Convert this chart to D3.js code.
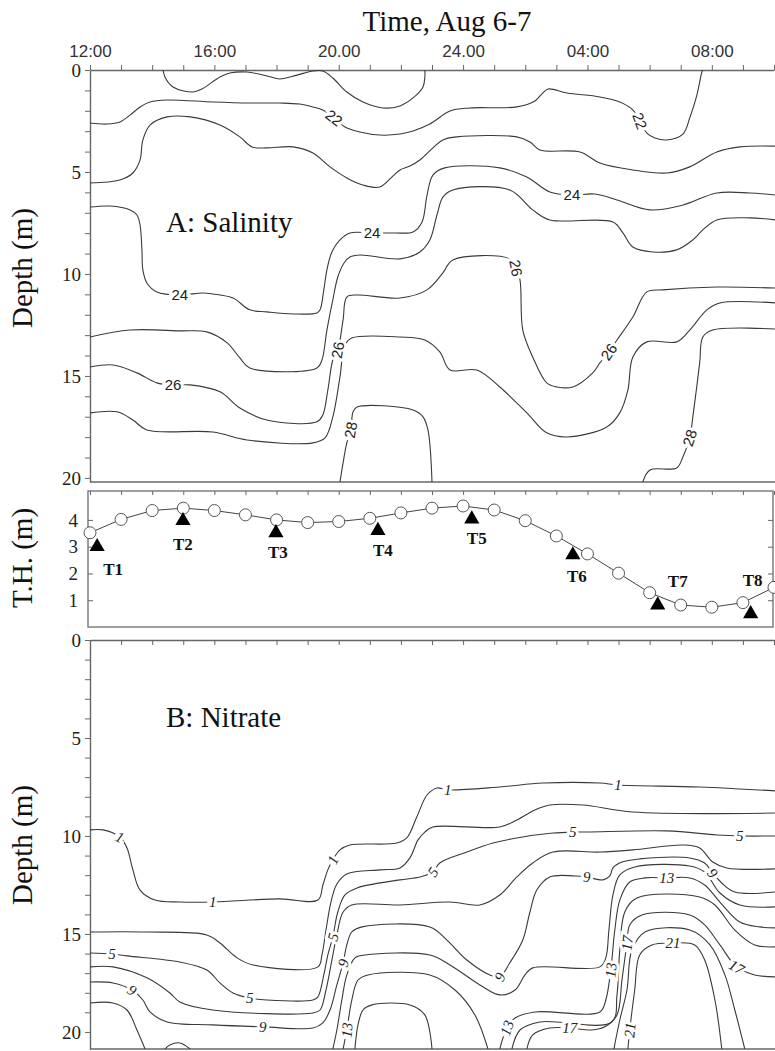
<!DOCTYPE html>
<html>
<head>
<meta charset="utf-8">
<title>Salinity and nitrate sections, Aug 6-7</title>
<script src="https://d3js.org/d3.v7.min.js"></script>
<style>
  body { margin: 0; background: #fff; }
  .serif { font-family: "Liberation Serif", "Times New Roman", serif; }
  .tick text { font-family: "Liberation Serif", serif; font-size: 19px; fill: #222; }
  .timeax .tick text { font-family: "Liberation Sans", Arial, sans-serif; font-size: 17px; fill: #333; }
  .domain, .tick line { stroke: #666; }
</style>
</head>
<body>
<div id="chart"></div>
<script>
// ---- time axis (hours after 12:00 Aug 6) ----
var timeTicks = d3.range(0, 23);
var timeLabels = {0: "12:00", 4: "16:00", 8: "20.00", 12: "24.00", 16: "04:00", 20: "08:00"};

// ---- tide height (T.H.) ----
var thHours  = d3.range(0, 23);
var thValues = [3.52, 4.02, 4.35, 4.44, 4.35, 4.19, 4.00, 3.90, 3.94, 4.06, 4.26, 4.44,
                4.52, 4.37, 3.97, 3.40, 2.73, 2.01, 1.28, 0.82, 0.74, 0.91, 1.48];
var stationNames  = ["T1", "T2", "T3", "T4", "T5", "T6", "T7", "T8"];
var stationHours  = [0.23, 2.99, 5.98, 9.26, 12.28, 15.53, 18.26, 21.25];
var stationValues = [3.00, 3.97, 3.52, 3.60, 4.03, 2.69, 0.82, 0.49];

// ---- salinity contours [hour, depth] ----
var sal21 = [[2.35,0],[2.41,0.34],[2.67,0.83],[3.31,1.08],[3.60,0.93],[4.18,0.34],[4.50,0.15],[5.05,0.10],[5.69,0.29],[6.11,0.44],[6.66,0.25],[7.17,0.05],[7.49,0.05],[7.81,0.39],[8.26,1.08],[8.78,1.57],[9.42,1.86],[9.97,1.76],[10.39,1.37],[10.71,0.83],[10.77,0.34],[10.77,0]];
var sal22 = [[0,2.60],[0.55,2.65],[0.96,2.55],[1.29,2.21],[1.61,1.81],[1.93,1.57],[2.48,1.47],[3.95,1.57],[5.14,1.62],[6.11,1.62],[6.75,1.67],[7.17,1.81],[7.49,1.96],[7.85,2.35],[8.20,2.79],[8.68,3.04],[9.32,3.19],[9.97,3.14],[10.39,2.99],[10.93,2.65],[11.58,2.01],[12.22,1.86],[13.73,1.81],[14.31,1.52],[14.53,1.18],[14.73,0.93],[15.34,1.13],[16.40,1.32],[17.04,1.57],[17.46,1.96],[17.68,2.50],[17.91,3.09],[18.17,3.33],[18.55,3.43],[19.07,3.14],[19.29,2.35],[19.52,1.23],[19.68,0.10],[19.71,0]];
var sal23 = [[0,5.54],[0.96,5.39],[1.38,5.05],[1.61,4.41],[1.70,3.43],[1.93,2.70],[2.48,2.30],[3.22,2.30],[4.18,2.70],[4.82,3.28],[5.21,3.77],[5.69,3.82],[6.53,3.77],[7.17,4.07],[7.72,4.75],[8.26,5.29],[8.78,5.64],[9.32,5.74],[9.74,5.20],[9.97,4.90],[10.29,4.71],[10.61,4.41],[11.35,3.43],[11.80,3.28],[13.73,3.28],[14.15,3.53],[14.47,3.92],[15.76,4.02],[16.40,4.56],[17.46,4.90],[18.55,5.05],[19.29,4.75],[20.16,4.02],[20.90,3.77],[22.03,3.73]];
var sal24 = [[0,6.72],[0.64,6.67],[1.29,6.86],[1.51,7.11],[1.61,7.60],[1.67,8.82],[1.70,9.80],[1.83,10.44],[2.15,10.88],[2.89,11.03],[3.63,10.93],[3.95,10.98],[4.60,11.18],[5.14,11.76],[5.69,11.86],[6.53,11.96],[7.30,11.91],[7.40,11.76],[7.52,10.78],[7.62,9.80],[7.78,8.92],[8.04,8.33],[8.36,7.99],[9.07,7.99],[9.81,7.99],[10.39,7.94],[10.68,7.45],[10.84,6.13],[11.03,5.15],[11.41,4.80],[13.18,4.80],[14.05,5.25],[14.79,5.98],[15.50,6.13],[16.24,6.08],[16.95,6.37],[18.01,6.86],[19.07,6.62],[20.16,6.03],[21.22,6.03],[22.03,6.13]];
var sal25 = [[0,13.09],[1.29,12.75],[2.89,12.79],[3.76,12.84],[4.41,13.38],[4.82,14.12],[5.14,14.61],[7.30,14.61],[7.46,14.22],[7.62,12.75],[7.81,11.27],[7.97,10.15],[8.17,9.46],[8.36,9.17],[8.68,9.07],[9.97,9.26],[10.61,8.92],[10.93,8.33],[11.16,7.11],[11.35,6.23],[11.67,5.88],[13.50,5.88],[14.24,6.86],[14.79,7.35],[16.82,7.45],[17.14,7.99],[17.46,8.68],[18.10,8.92],[18.87,8.82],[19.39,8.33],[19.71,7.84],[20.16,7.35],[21.22,7.25],[22.03,7.35]];
var sal26 = [[0,14.56],[0.74,14.46],[1.51,14.85],[2.15,15.34],[2.67,15.44],[3.22,15.44],[4.18,15.78],[4.82,16.57],[5.69,17.16],[7.30,17.25],[7.49,16.91],[7.65,15.69],[7.81,14.22],[7.97,13.73],[8.14,12.25],[8.26,11.13],[8.59,11.03],[9.97,11.18],[10.84,10.78],[11.35,9.95],[11.67,9.31],[13.50,9.26],[13.70,9.71],[13.83,10.29],[13.92,12.75],[14.24,14.07],[14.69,15.34],[15.02,15.54],[15.53,15.54],[16.17,14.85],[16.40,14.36],[16.69,13.82],[16.95,13.24],[17.46,12.11],[17.91,10.88],[18.42,10.78],[20.16,10.64],[22.03,10.69]];
var sal27 = [[0,16.81],[0.87,16.76],[1.38,17.16],[1.83,17.65],[3.95,17.75],[5.05,18.14],[7.17,18.28],[7.56,18.04],[7.81,17.01],[8.04,15.05],[8.20,13.48],[8.42,13.14],[9.97,13.09],[10.77,13.24],[11.25,13.82],[11.58,14.71],[12.44,14.71],[13.18,15.54],[14.05,16.81],[14.69,17.79],[15.34,17.99],[16.62,17.50],[17.04,16.81],[17.30,15.69],[17.46,14.07],[17.91,13.33],[18.87,13.33],[19.29,12.75],[19.84,11.76],[20.26,11.42],[22.03,11.42]];
var sal28a = [[8.04,20.2],[8.14,19.26],[8.26,18.28],[8.39,17.65],[8.46,16.76],[8.59,16.52],[10.39,16.67],[10.71,17.01],[10.87,17.65],[11.00,20.2]];
var sal28b = [[17.78,20.2],[18.01,19.61],[18.87,19.51],[19.07,18.97],[19.29,18.04],[19.39,17.01],[19.61,14.36],[19.71,13.09],[20.03,12.75],[22.03,12.70]];
var salLines = [sal21, sal22, sal23, sal24, sal25, sal26, sal27, sal28a, sal28b];

// salinity contour labels [text, hour, depth]
var salLabels = [["22",7.85,2.35],["22",17.68,2.50],["24",2.89,11.03],["24",9.07,7.99],["24",15.50,6.13],
                 ["26",2.67,15.44],["26",7.97,13.73],["26",13.70,9.71],["26",16.69,13.82],["28",8.39,17.65],["28",19.29,18.04]];
var salLabelAngles = [38, 70, 0, 0, 0, 0, -80, 80, -55, -80, -72];

// ---- nitrate contours [hour, depth] ----
function zipHD(h, d) { return h.map(function(v, i) { return [v, d[i]]; }); }
var nit1 = zipHD(
  [0,0.42,0.96,1.19,1.38,1.61,2.09,2.89,3.95,6.11,7.33,7.49,7.65,7.81,8.04,8.36,9.87,10.19,10.51,10.84,11.16,11.51,13.18,14.57,16.40,16.98,19.61,22.03],
  [9.69,9.69,10.05,10.61,11.73,12.76,13.27,13.37,13.37,13.21,13.27,12.50,11.73,11.22,10.71,10.46,10.36,10.10,9.03,7.91,7.55,7.65,7.50,7.30,7.30,7.40,7.50,7.70]);
var nit3 = zipHD(
  [0,1.83,3.76,4.18,4.73,5.24,7.33,7.46,7.59,7.75,7.94,8.26,9.32,9.97,10.29,10.55,10.77,11.03,13.18,13.73,14.31,14.79,15.85,17.46,22.03],
  [14.90,14.90,15.05,15.46,16.22,16.58,16.68,16.07,14.80,13.37,12.45,11.94,11.73,11.63,11.12,10.20,9.80,9.54,9.54,9.18,8.67,8.42,8.42,8.78,8.83]);
var nit5 = zipHD(
  [0,0.71,1.19,2.89,3.76,4.18,4.60,5.14,5.69,7.17,7.33,7.52,7.65,7.81,7.97,8.20,8.59,9.97,10.61,11.03,11.25,12.12,12.96,13.73,14.89,15.53,15.98,18.55,20.16,20.90,22.03],
  [15.97,16.02,16.12,16.43,16.84,17.50,18.01,18.27,18.37,18.37,18.21,17.09,16.07,15.15,13.88,13.01,12.65,12.24,12.09,11.84,11.38,10.82,10.36,10.10,9.85,9.80,9.80,9.74,9.95,10.00,10.00]);
var nit7 = zipHD(
  [0,0.74,1.83,2.57,2.89,3.95,7.17,7.40,7.59,7.78,7.94,8.14,8.42,9.97,11.58,12.54,13.18,13.73,14.24,14.89,16.40,17.46,19.07,19.61,20.03,20.48,22.03],
  [16.68,16.68,17.24,18.01,18.47,18.88,19.03,18.88,17.86,16.33,15.05,13.88,13.52,13.52,13.37,13.52,13.01,12.09,11.38,10.82,10.82,10.71,10.46,10.61,11.33,11.63,11.68]);
var nit9 = zipHD(
  [0,0.74,1.35,1.70,1.93,2.48,3.95,5.56,7.17,7.49,7.72,7.94,8.14,8.26,8.42,8.75,10.93,11.48,12.12,12.86,13.18,13.50,13.92,14.15,14.37,14.79,15.59,15.98,16.50,16.72,16.82,17.11,17.68,19.29,19.77,20.03,20.32,20.74,22.03],
  [17.45,17.50,17.86,18.37,18.98,19.49,19.64,19.74,19.80,19.54,18.88,17.60,16.48,15.56,14.90,14.64,14.64,15.31,16.33,17.09,17.19,16.48,15.31,13.88,12.76,12.09,12.04,12.09,12.24,12.04,11.63,11.33,11.17,11.12,11.38,11.89,12.40,12.86,12.86]);
var nit11a = zipHD([0,0.74,1.19,1.51,1.77], [18.52,18.52,18.88,19.90,20.87]);
var nit11b = zipHD([2.41,2.57,2.89,3.22], [20.87,20.66,20.56,20.87]);
var nit11c = zipHD(
  [7.81,7.94,8.10,8.26,8.52,8.84,10.93,11.58,12.54,13.18,13.67,13.99,14.24,16.40,16.59,16.69,16.82,17.04,17.52,19.29,19.77,20.26,20.90,22.03],
  [20.87,19.90,18.37,17.09,16.22,16.07,16.07,16.58,17.60,18.11,17.86,17.09,16.73,16.68,16.22,14.80,13.01,11.99,11.58,11.53,11.84,12.91,13.52,13.62]);
var nit13a = zipHD([8.14,8.26,8.42,8.62,8.94,10.93,11.74,12.38,12.80], [20.87,19.90,18.37,17.35,17.09,17.09,17.86,19.13,20.87]);
var nit13b = zipHD(
  [13.18,13.41,13.67,14.31,16.40,16.59,16.75,16.88,17.04,17.36,17.85,18.55,19.29,19.77,20.26,20.90,21.54,22.03],
  [20.87,19.80,19.29,18.98,18.98,18.37,16.84,14.80,13.27,12.35,12.14,12.14,12.14,12.50,13.37,14.39,14.64,14.69]);
var nit15a = zipHD([8.52,8.62,8.78,9.07,10.29,10.77,11.00], [20.87,19.64,18.88,18.62,18.62,19.13,20.87]);
var nit15b = zipHD(
  [13.57,13.83,14.47,16.78,16.95,17.04,17.20,17.59,19.61,20.10,20.74,21.38,22.03],
  [20.87,19.90,19.49,19.49,18.11,15.82,13.88,13.16,13.11,13.52,14.80,15.56,15.66]);
var nit17 = zipHD(
  [14.05,14.24,14.79,15.43,16.14,16.56,16.95,17.11,17.27,17.36,17.75,19.29,19.77,20.26,20.80,21.38,22.03],
  [20.87,20.15,19.80,19.80,19.90,19.74,19.13,17.35,15.46,14.54,14.03,14.03,14.54,15.56,16.68,17.09,17.19]);
var nit19 = zipHD([16.85,17.04,17.27,17.43,17.85,19.29,19.94,20.42,20.74,21.06], [20.87,19.39,17.86,15.82,14.90,14.80,15.56,17.09,18.88,20.87]);
var nit21 = zipHD([17.30,17.36,17.52,17.68,18.07,18.75,19.45,19.77,20.10,20.32], [20.87,19.90,17.86,16.07,15.56,15.46,15.56,16.33,18.37,20.87]);
var nitLines = [nit1, nit3, nit5, nit7, nit9, nit11a, nit11b, nit11c, nit13a, nit13b, nit15a, nit15b, nit17, nit19, nit21];

var nitLabels = [["1",0.96,10.05],["1",3.95,13.37],["1",7.81,11.22],["1",11.51,7.65],["1",16.98,7.40],
                 ["5",0.71,16.02],["5",5.14,18.27],["5",7.81,15.15],["5",11.03,11.84],["5",15.53,9.80],["5",20.90,10.00],
                 ["9",1.35,17.86],["9",5.56,19.74],["9",8.14,16.48],["9",13.18,17.19],["9",15.98,12.09],["9",20.03,11.89],
                 ["13",8.26,19.90],["13",13.41,19.80],["13",16.75,16.84],["13",18.55,12.14],
                 ["17",15.43,19.80],["17",17.27,15.46],["17",20.80,16.68],
                 ["21",18.75,15.46],["21",17.36,19.90]];
var nitLabelAngles = [25,0,-65,0,0, 0,0,-75,-55,0,0, 35,0,-75,-65,0,50, -85,-70,-85,0, 0,-85,30, 0,-85];

// ---- layout ----
var W = 775, H = 1051;
var svg = d3.select("#chart").append("svg").attr("width", W).attr("height", H);
svg.append("rect").attr("width", W).attr("height", H).attr("fill", "#fff");

var x = d3.scaleLinear().domain([0, 22]).range([90, 774]);
var ySal = d3.scaleLinear().domain([0, 20.2]).range([70, 482]);
var yTH  = d3.scaleLinear().domain([0, 5.08]).range([627, 491]);
var yNit = d3.scaleLinear().domain([0, 20.87]).range([640, 1049]);

var defs = svg.append("defs");
defs.append("clipPath").attr("id", "clipSal").append("rect")
  .attr("x", 90).attr("y", 70).attr("width", W - 90).attr("height", 412);
defs.append("clipPath").attr("id", "clipNit").append("rect")
  .attr("x", 90).attr("y", 640).attr("width", W - 90).attr("height", 409);

// title
svg.append("text").attr("class", "serif").attr("x", 447).attr("y", 31)
  .attr("text-anchor", "middle").attr("font-size", 29).attr("fill", "#111").text("Time, Aug 6-7");

// y-axis titles
function yTitle(txt, cy) {
  svg.append("text").attr("class", "serif")
    .attr("transform", "translate(32," + cy + ") rotate(-90)")
    .attr("text-anchor", "middle").attr("font-size", 29).attr("fill", "#111").text(txt);
}
yTitle("Depth (m)", 268);
yTitle("T.H. (m)", 558);
yTitle("Depth (m)", 845);

// ---- panel A: salinity ----
svg.append("g").attr("class", "timeax").attr("transform", "translate(0,70)")
  .call(d3.axisTop(x).tickValues(timeTicks).tickSizeInner(5).tickSizeOuter(0).tickPadding(8)
    .tickFormat(function(d) { return timeLabels[d] || ""; }))
  .call(function(g) { g.select(".domain").attr("stroke-width", 1.6); });

svg.append("g").attr("transform", "translate(90,0)")
  .call(d3.axisLeft(ySal).tickValues(d3.range(0, 21)).tickSizeInner(5).tickSizeOuter(0).tickPadding(4)
    .tickFormat(function(d) { return d % 5 === 0 ? d : ""; }))
  .call(function(g) { g.select(".domain").attr("stroke-width", 1.4); });

svg.append("line").attr("x1", 90).attr("x2", W).attr("y1", 482).attr("y2", 482)
  .attr("stroke", "#666").attr("stroke-width", 1.6);

var lineSal = d3.line().x(function(d) { return x(d[0]); }).y(function(d) { return ySal(d[1]); })
  .curve(d3.curveCatmullRom.alpha(0.5));
svg.append("g").attr("clip-path", "url(#clipSal)").selectAll("path").data(salLines).join("path")
  .attr("d", lineSal).attr("fill", "none").attr("stroke", "#3a3a3a").attr("stroke-width", 1.1);

svg.append("g").selectAll("text").data(salLabels).join("text")
  .attr("transform", function(d, i) { return "translate(" + x(d[1]) + "," + ySal(d[2]) + ") rotate(" + salLabelAngles[i] + ")"; })
  .attr("text-anchor", "middle").attr("dy", "0.35em")
  .attr("font-family", "Liberation Sans, Arial, sans-serif").attr("font-size", 15).attr("fill", "#222")
  .attr("stroke", "#fff").attr("stroke-width", 6).attr("paint-order", "stroke")
  .text(function(d) { return d[0]; });

svg.append("text").attr("class", "serif").attr("x", 166).attr("y", 232)
  .attr("font-size", 29).attr("fill", "#111").text("A: Salinity");

// ---- tide height panel ----
svg.append("rect").attr("x", 88).attr("y", 491).attr("width", 685).attr("height", 136)
  .attr("fill", "none").attr("stroke", "#777").attr("stroke-width", 1.4);

svg.append("g").attr("transform", "translate(0,491)")
  .call(d3.axisBottom(x).tickValues(timeTicks).tickSizeInner(4).tickSizeOuter(0).tickFormat(""))
  .call(function(g) { g.select(".domain").remove(); });
svg.append("g").attr("transform", "translate(88,0)")
  .call(d3.axisLeft(yTH).tickValues([1, 2, 3, 4]).tickSizeInner(-5).tickSizeOuter(0).tickPadding(10)
    .tickFormat(d3.format("d")))
  .call(function(g) { g.select(".domain").remove(); });
svg.append("g").attr("transform", "translate(773,0)")
  .call(d3.axisRight(yTH).tickValues([1, 2, 3, 4]).tickSizeInner(-5).tickSizeOuter(0).tickFormat(""))
  .call(function(g) { g.select(".domain").remove(); });

var thData = thHours.map(function(h, i) { return [h, thValues[i]]; });
svg.append("path").datum(thData)
  .attr("d", d3.line().x(function(d) { return x(d[0]); }).y(function(d) { return yTH(d[1]); }))
  .attr("fill", "none").attr("stroke", "#444").attr("stroke-width", 1);
svg.append("g").selectAll("circle").data(thData).join("circle")
  .attr("cx", function(d) { return x(d[0]); }).attr("cy", function(d) { return yTH(d[1]); })
  .attr("r", 6).attr("fill", "#fff").attr("stroke", "#555").attr("stroke-width", 1);

var tri = d3.symbol().type(d3.symbolTriangle).size(100);
svg.append("g").selectAll("path").data(stationHours).join("path")
  .attr("transform", function(d, i) { return "translate(" + x(d) + "," + yTH(stationValues[i]) + ")"; })
  .attr("d", tri).attr("fill", "#000");

var stationLabelOffsets = [[16, 28], [0, 29], [2, 25], [5, 25], [5, 25], [4, 27], [20, -18], [2, -28]];
svg.append("g").selectAll("text").data(stationNames).join("text")
  .attr("class", "serif")
  .attr("x", function(d, i) { return x(stationHours[i]) + stationLabelOffsets[i][0]; })
  .attr("y", function(d, i) { return yTH(stationValues[i]) + stationLabelOffsets[i][1]; })
  .attr("text-anchor", "middle").attr("font-size", 17).attr("font-weight", "bold").attr("fill", "#111")
  .text(function(d) { return d; });

// ---- panel B: nitrate ----
svg.append("g").attr("transform", "translate(0,640)")
  .call(d3.axisBottom(x).tickValues(timeTicks).tickSizeInner(5).tickSizeOuter(0).tickFormat(""))
  .call(function(g) { g.select(".domain").attr("stroke-width", 1.4); });

svg.append("g").attr("transform", "translate(90,0)")
  .call(d3.axisLeft(yNit).tickValues(d3.range(0, 21)).tickSizeInner(5).tickSizeOuter(0).tickPadding(4)
    .tickFormat(function(d) { return d % 5 === 0 ? d : ""; }))
  .call(function(g) { g.select(".domain").attr("stroke-width", 1.4); });

svg.append("line").attr("x1", 90).attr("x2", W).attr("y1", 1049).attr("y2", 1049)
  .attr("stroke", "#666").attr("stroke-width", 1.4);

var lineNit = d3.line().x(function(d) { return x(d[0]); }).y(function(d) { return yNit(d[1]); })
  .curve(d3.curveCatmullRom.alpha(0.5));
svg.append("g").attr("clip-path", "url(#clipNit)").selectAll("path").data(nitLines).join("path")
  .attr("d", lineNit).attr("fill", "none").attr("stroke", "#3a3a3a").attr("stroke-width", 1.1);

svg.append("g").selectAll("text").data(nitLabels).join("text")
  .attr("transform", function(d, i) { return "translate(" + x(d[1]) + "," + yNit(d[2]) + ") rotate(" + nitLabelAngles[i] + ")"; })
  .attr("text-anchor", "middle").attr("dy", "0.35em")
  .attr("font-family", "Liberation Serif, serif").attr("font-style", "italic").attr("font-size", 15).attr("fill", "#222")
  .attr("stroke", "#fff").attr("stroke-width", 6).attr("paint-order", "stroke")
  .text(function(d) { return d[0]; });

svg.append("text").attr("class", "serif").attr("x", 166).attr("y", 727)
  .attr("font-size", 29).attr("fill", "#111").text("B: Nitrate");
</script>
</body>
</html>
